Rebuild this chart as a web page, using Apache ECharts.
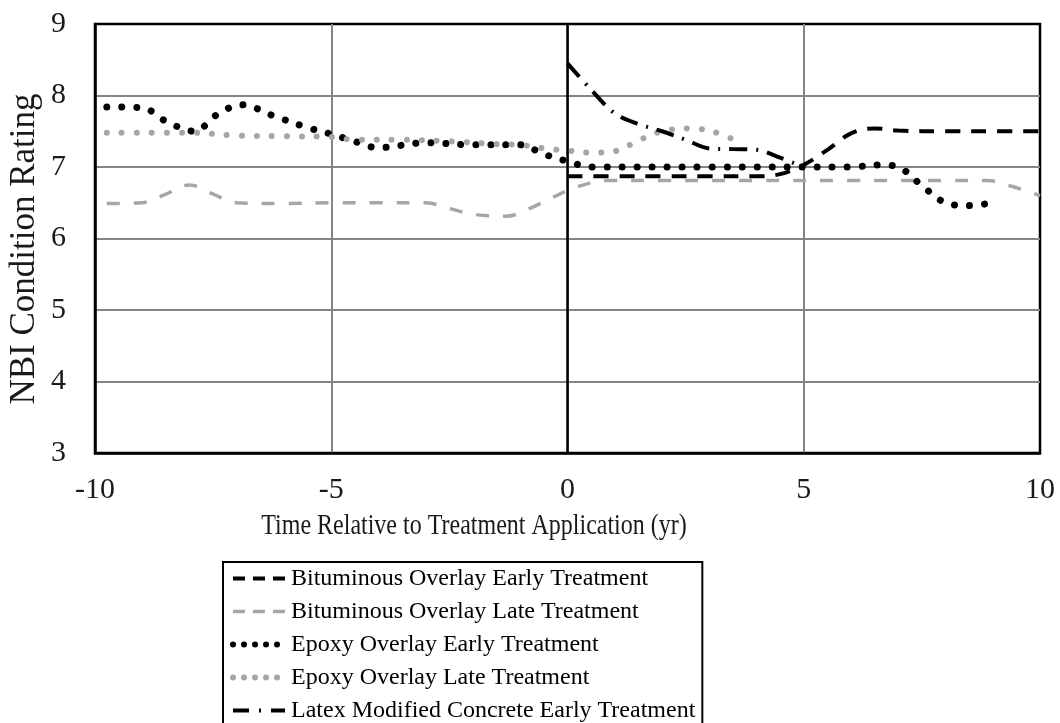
<!DOCTYPE html>
<html>
<head>
<meta charset="utf-8">
<script src="https://cdn.jsdelivr.net/npm/echarts@6/dist/echarts.min.js"></script>
<style>html,body{margin:0;padding:0;background:#fff;}#c{width:1060px;height:723px;}</style>
</head>
<body>
<div id="c"></div>
<script>
// ---- data ----
const seriesNames = [
  'Bituminous Overlay Early Treatment',
  'Bituminous Overlay Late Treatment',
  'Epoxy Overlay Early Treatment',
  'Epoxy Overlay Late Treatment',
  'Latex Modified Concrete Early Treatment'
];
const xTicks = [-10, -5, 0, 5, 10];
const yTicks = [3, 4, 5, 6, 7, 8, 9];

const bituminousEarly = [[0,6.87],[1,6.87],[2,6.87],[3,6.87],[4,6.87],[4.5,6.9],[5,7.03],[5.5,7.24],[6,7.47],[6.5,7.54],[7,7.51],[8,7.5],[9,7.5],[10,7.5]];
const bituminousLate = [[-9.75,6.49],[-9,6.5],[-8.5,6.62],[-8,6.75],[-7.5,6.62],[-7,6.5],[-6,6.49],[-5,6.5],[-4,6.5],[-3,6.5],[-2.5,6.42],[-2,6.34],[-1.3,6.31],[-0.8,6.42],[-0.3,6.58],[0.2,6.72],[0.8,6.81],[2,6.81],[4,6.81],[6,6.81],[8,6.81],[8.9,6.81],[9.4,6.73],[10,6.6]];
const epoxyEarly = [[-9.75,7.84],[-9,7.83],[-8.5,7.64],[-7.9,7.5],[-7.4,7.74],[-6.9,7.87],[-6.2,7.71],[-5.5,7.55],[-5,7.46],[-4.6,7.38],[-4,7.27],[-3,7.34],[-2,7.31],[-1,7.31],[-0.5,7.18],[0,7.08],[0.5,7.0],[3,7.0],[6,7.0],[6.6,7.03],[7,7.0],[7.5,6.74],[8,6.5],[8.5,6.46],[9,6.5]];
const epoxyLate = [[-9.75,7.48],[-8,7.48],[-7,7.44],[-6,7.43],[-5,7.42],[-4.5,7.38],[-3.5,7.38],[-2.5,7.36],[-1.5,7.32],[-1,7.31],[-0.5,7.26],[0,7.23],[0.5,7.2],[1,7.22],[1.5,7.37],[2,7.5],[2.6,7.54],[3.1,7.49],[3.7,7.33]];
const latexEarly = [[0,8.45],[0.5,8.08],[1,7.75],[1.5,7.6],[2,7.5],[2.5,7.38],[3,7.26],[3.5,7.25],[4,7.24],[4.5,7.13],[5,7.0]];

const FONT = '"Liberation Serif", "Times New Roman", serif';
const GRAY = '#a6a6a6';

const styles = [
  { color: '#000', width: 4, type: [15, 11], cap: 'butt' },
  { color: GRAY, width: 3.5, type: [13, 14], cap: 'butt' },
  { color: '#000', width: 7, type: [0.01, 15], cap: 'round' },
  { color: GRAY, width: 6, type: [0.01, 15], cap: 'round' },
  { color: '#000', width: 4, type: [18, 9, 2, 9], cap: 'butt' }
];
const legendStyles = [
  { color: '#000', width: 4, type: [12, 8], cap: 'butt' },
  { color: GRAY, width: 3.5, type: [12, 8], cap: 'butt' },
  { color: '#000', width: 6, type: [0.01, 11], cap: 'round' },
  { color: GRAY, width: 6, type: [0.01, 11], cap: 'round' },
  { color: '#000', width: 4, type: [16, 10, 2, 10], cap: 'butt' }
];

const chart = echarts.init(document.getElementById('c'));

const datasets = [bituminousEarly, bituminousLate, epoxyEarly, epoxyLate, latexEarly];
const series = datasets.map((d, i) => ({
  name: seriesNames[i],
  type: 'line',
  data: d,
  smooth: 0.35,
  symbol: 'none',
  showSymbol: false,
  silent: true,
  animation: false,
  lineStyle: styles[i],
  itemStyle: { color: styles[i].color }
}));
// vertical black line at x = 0 (Excel vertical axis crossing)
series[0].markLine = {
  silent: true,
  symbol: 'none',
  label: { show: false },
  lineStyle: { color: '#000', width: 2.5, type: 'solid' },
  data: [{ xAxis: 0 }],
  animation: false
};

chart.setOption({
  backgroundColor: '#fff',
  animation: false,
  grid: {
    left: 95, right: 20, top: 24, bottom: 270,
    show: true, borderColor: '#000', borderWidth: 2.5, containLabel: false
  },
  xAxis: {
    type: 'value', min: xTicks[0], max: xTicks[xTicks.length - 1], interval: 5,
    axisLine: { show: true, onZero: false, lineStyle: { color: '#000', width: 2.5 } },
    axisTick: { show: false },
    splitLine: { show: true, showMinLine: false, showMaxLine: false, lineStyle: { color: '#858585', width: 2 } },
    axisLabel: { fontFamily: FONT, fontSize: 30, color: '#1a1a1a', margin: 22, lineHeight: 30,
      formatter: v => String(v) }
  },
  yAxis: {
    type: 'value', min: yTicks[0], max: yTicks[yTicks.length - 1], interval: 1,
    axisLine: { show: true, onZero: false, lineStyle: { color: '#000', width: 2.5 } },
    axisTick: { show: false },
    splitLine: { show: true, showMinLine: false, showMaxLine: false, lineStyle: { color: '#858585', width: 2 } },
    axisLabel: { fontFamily: FONT, fontSize: 30, color: '#1a1a1a', margin: 29 }
  },
  legend: {
    orient: 'vertical',
    left: 223, top: 562,
    height: 220,
    padding: [3, 7, 3, 7],
    itemGap: 6,
    itemWidth: 52,
    itemHeight: 14,
    borderColor: '#000',
    borderWidth: 2,
    backgroundColor: '#fff',
    selectedMode: false,
    itemStyle: { opacity: 0 },
    data: seriesNames.map((n, i) => ({ name: n, itemStyle: { opacity: 0, color: 'rgba(0,0,0,0)', borderWidth: 0 }, lineStyle: legendStyles[i] })),
    textStyle: { fontFamily: FONT, fontSize: 24, color: '#000', lineHeight: 27, padding: [0, 0, 0, 1] }
  },
  graphic: [
    { type: 'text', x: 474, y: 526, scaleX: 0.8, silent: true,
      style: { text: 'Time Relative to Treatment Application (yr)', font: '30px ' + FONT, fill: '#1a1a1a',
        align: 'center', verticalAlign: 'middle' } },
    { type: 'text', x: 25, y: 249, rotation: Math.PI / 2, silent: true,
      style: { text: 'NBI Condition Rating', font: '35px ' + FONT, fill: '#1a1a1a',
        align: 'center', verticalAlign: 'middle' } }
  ],
  series: series
});
</script>
</body>
</html>
